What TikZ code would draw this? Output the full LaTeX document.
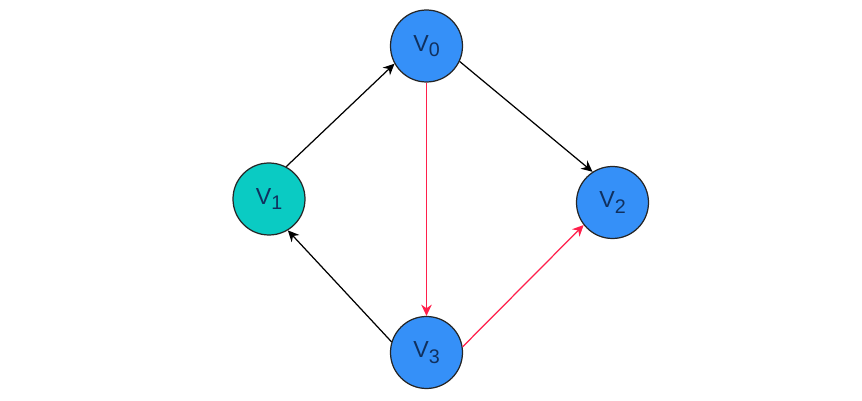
\documentclass[tikz,border=0pt]{standalone}
\usepackage{fontspec}
\setmainfont{Liberation Sans}
\usetikzlibrary{arrows.meta}
\definecolor{vblue}{HTML}{3590F8}
\definecolor{vteal}{HTML}{0ACBC3}
\definecolor{vtext}{HTML}{10305E}
\definecolor{ered}{HTML}{FF1F4B}
\newcommand{\vsub}[1]{V\raisebox{-1.6pt}{\fontsize{5.6}{6}\selectfont #1}}

\begin{document}
\begin{tikzpicture}[
        vertex/.style={circle,draw=black!85,line width=0.35pt,fill=vblue,minimum size=0.72cm,inner sep=0pt,text=vtext,font=\fontsize{6.6}{7}\selectfont},
        edge/.style={line width=0.35pt,-{Stealth[length=3.2pt,width=3pt]}},
        redge/.style={edge,draw=ered,fill=ered}
    ]
        \useasboundingbox (0,0) rectangle (8.62,4.01);
        \node[vertex] (v0) at (4.265,3.55) {\vsub{0}};
        \node[vertex,fill=vteal] (v1) at (2.69,2.02) {\vsub{1}};
        \node[vertex] (v2) at (6.125,1.985) {\vsub{2}};
        \node[vertex] (v3) at (4.265,0.485) {\vsub{3}};
        \draw[edge] (v1.62) -- (v0.209);
        \draw[edge] (v0.-25) -- (v2.123);
        \draw[edge] (v3.163) -- (v1.-59);
        \draw[redge] (v0.south) -- (v3.north);
        \draw[redge] (v3.9) -- (v2.218);
    \end{tikzpicture}
\end{document}
